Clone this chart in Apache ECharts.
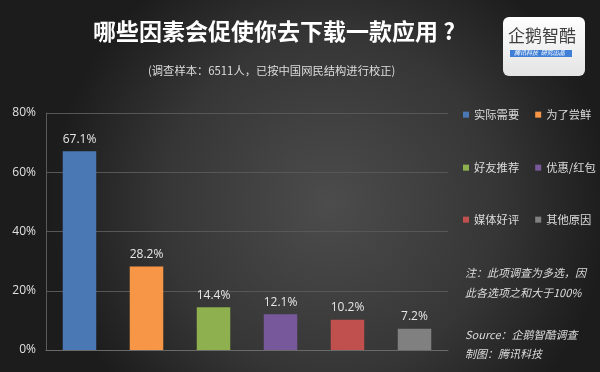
<!DOCTYPE html>
<html><head><meta charset="utf-8">
<script src="https://cdn.jsdelivr.net/npm/echarts@6/dist/echarts.min.js"></script>
<style>html,body{margin:0;padding:0;background:#2a2a2a}#c{width:600px;height:372px}</style>
</head><body><div id="c"></div>
<script>
const categories = ['实际需要','为了尝鲜','好友推荐','优惠/红包','媒体好评','其他原因'];
const values = [67.1, 28.2, 14.4, 12.1, 10.2, 7.2];
const colors = ['#4a78b5','#f79646','#8eb04f','#77599b','#c0504d','#808080'];
const yTicks = [0, 20, 40, 60, 80];

const chart = echarts.init(document.getElementById('c'));
const series = categories.map((name, i) => ({
  name: name,
  type: 'bar',
  stack: 'all',
  barWidth: '50%',
  itemStyle: { color: colors[i] },
  label: { show: true, position: 'top', distance: 6, color: '#e6e6e6', fontSize: 12, fontFamily: 'Open Sans, sans-serif', formatter: p => p.value + '%' },
  data: categories.map((c, j) => j === i ? values[i] : null)
}));
const legendStyle = { color: '#dcdcdc', fontSize: 11.3, fontFamily: 'Noto Sans CJK SC' };
function legend(names, top) {
  return { left: 463, top: top, width: 200, padding: 0, orient: 'horizontal', icon: 'rect', itemWidth: 6, itemHeight: 6, itemGap: 16, textStyle: legendStyle, data: names, selectedMode: false };
}
chart.setOption({
  backgroundColor: {
    type: 'radial', x: 0.55, y: 0.55, r: 0.75,
    colorStops: [{ offset: 0, color: '#4c4c4c' }, { offset: 0.6, color: '#363636' }, { offset: 1, color: '#1c1c1c' }]
  },
  animation: false,
  grid: { left: 46, right: 152, top: 113, bottom: 22 },
  legend: [
    legend([categories[0], categories[1]], 109),
    legend([categories[2], categories[3]], 162),
    legend([categories[4], categories[5]], 214)
  ],
  xAxis: { type: 'category', data: categories, axisLine: { lineStyle: { color: '#6a6a6a' } }, axisTick: { show: false }, axisLabel: { show: false } },
  yAxis: {
    type: 'value', min: yTicks[0], max: yTicks[yTicks.length - 1], interval: 20,
    axisLine: { show: true, lineStyle: { color: '#5a5a5a' } },
    axisLabel: { color: '#e0e0e0', fontSize: 12, fontFamily: 'Open Sans, sans-serif', formatter: v => v + '%', margin: 10 },
    splitLine: { lineStyle: { color: '#575757', width: 1 } }
  },
  series: series,
  graphic: [
    { type: 'text', left: 93, top: 20, style: { text: '哪些因素会促使你去下载一款应用 ?', fill: '#ffffff', fontSize: 23, fontWeight: 'bold', fontFamily: 'Noto Sans CJK SC' } },
    { type: 'text', left: 148, top: 65, style: { text: '(调查样本：6511人，已按中国网民结构进行校正)', fill: '#dddddd', fontSize: 11.3, fontFamily: 'Noto Sans CJK SC' } },
    { type: 'rect', shape: { x: 503, y: 17, width: 82, height: 59, r: 6 }, style: { fill: { type: 'linear', x: 0, y: 0, x2: 0, y2: 1, colorStops: [{ offset: 0, color: '#ffffff' }, { offset: 1, color: '#e4e4e4' }] } } },
    { type: 'text', left: 508, top: 27, style: { text: '企鹅智酷', fill: '#404040', fontSize: 17, fontFamily: 'Noto Sans CJK SC' } },
    { type: 'rect', shape: { x: 510, y: 50, width: 62, height: 7 }, style: { fill: '#3f7fd6' } },
    { type: 'text', left: 514, top: 49.5, style: { text: '腾讯科技  研究出品', fill: '#ffffff', fontSize: 6, fontStyle: 'italic', fontFamily: 'Noto Sans CJK SC' } },
    { type: 'text', left: 465, top: 263, style: { text: '注：此项调查为多选，因\n此各选项之和大于100%', fill: '#dcdcdc', fontSize: 11, lineHeight: 20, fontStyle: 'italic', fontFamily: 'Noto Sans CJK SC' } },
    { type: 'text', left: 465, top: 325, style: { text: 'Source：企鹅智酷调查\n制图：腾讯科技', fill: '#dcdcdc', fontSize: 11, lineHeight: 19, fontStyle: 'italic', fontFamily: 'Noto Sans CJK SC' } }
  ]
});
</script></body></html>
